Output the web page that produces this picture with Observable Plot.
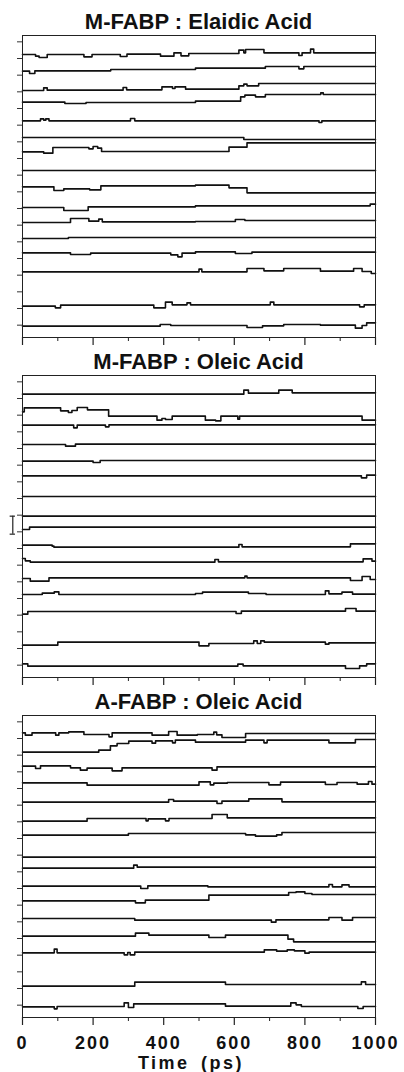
<!DOCTYPE html>
<html>
<head>
<meta charset="utf-8">
<script src="https://cdn.jsdelivr.net/npm/d3@7"></script>
<script src="https://cdn.jsdelivr.net/npm/@observablehq/plot@0.6"></script>
<style>
  html, body { margin: 0; padding: 0; background: #fff; }
  #chart { position: relative; width: 404px; height: 1072px; overflow: hidden;
           font-family: "Liberation Sans", Arial, Helvetica, sans-serif; }
  .title { position: absolute; left: 22px; width: 353px; text-align: center;
           font-weight: bold; font-size: 22px; line-height: 22px; color: #111; white-space: nowrap; }
  .panel { position: absolute; left: 0; }
  .xlabel { position: absolute; left: 0; width: 382px; text-align: center; top: 1053.5px;
            font-weight: bold; font-size: 18px; line-height: 18px; color: #111;
            letter-spacing: 2.5px; word-spacing: 4px; white-space: nowrap; }
</style>
</head>
<body>
<div id="chart"></div>
<script>
// ---------- data (time in ps, offset trace value in arbitrary units; each trace = step breakpoints [t, value]) ----------
const titles = ["M-FABP : Elaidic Acid", "M-FABP : Oleic Acid", "A-FABP : Oleic Acid"];
const xLabel = "Time (ps)";
const majorTicks = [0, 200, 400, 600, 800, 1000];
const minorTicks = [100, 300, 500, 700, 900];
const yTicks = [0, 50, 100, 150, 200, 250, 300, 350, 400, 450, 500, 550, 600, 650, 700, 750, 800, 850];
const timeDomain = [0, 1000];
const valueDomain = [-37, 869];

const mfabpElaidic = [
  [[0,812],[37,807],[47,803],[70,812],[174,805],[197,812],[277,806],[296,813],[391,807],[429,817],[449,808],[471,815],[613,825],[627,817],[632,827],[684,817],[783,809],[792,817],[816,828],[825,817]],
  [[0,762],[20,755],[35,763],[250,767],[490,771],[688,776],[783,769],[797,776]],
  [[0,704],[60,712],[70,705],[285,713],[295,706],[395,715],[425,710],[432,715],[462,708],[613,718],[627,723],[636,718],[669,725]],
  [[0,669],[120,665],[180,668],[490,672],[618,685],[630,690],[660,685],[688,692],[845,697],[852,692]],
  [[0,613],[51,619],[60,615],[66,619],[75,613],[306,620],[318,613],[840,608],[848,613]],
  [[0,563],[627,557]],
  [[0,520],[60,516],[86,533],[188,529],[200,536],[213,531],[224,521],[585,534],[636,547]],
  [[0,464]],
  [[0,415],[89,404],[117,409],[190,406],[222,418],[490,420],[585,412],[636,397]],
  [[0,353],[117,344],[186,355],[490,358],[985,363]],
  [[0,308],[136,320],[188,312],[216,318],[226,310],[490,311],[603,317],[630,314]],
  [[0,260],[130,263]],
  [[0,217],[136,212],[193,216],[420,211],[440,205],[452,216],[490,220],[603,215],[650,219]],
  [[0,160],[500,168],[508,160],[636,170],[684,163],[740,170],[844,162],[938,170],[962,161],[988,155]],
  [[0,57],[93,52],[108,60],[372,52],[405,69],[424,61],[466,67],[476,61],[702,69],[712,61],[955,55],[968,61]],
  [[0,-3],[390,2],[420,-1],[636,-7],[680,-2],[740,2],[844,0],[943,-9],[962,-1],[975,7]]
];

const mfabpOleic = [
  [[0,813],[627,825],[640,816],[726,825],[764,817]],
  [[0,760],[5,772],[108,763],[130,758],[140,764],[155,773],[184,766],[244,747],[381,735],[395,740],[405,737],[424,747],[518,735],[547,733],[562,747],[610,738],[615,747],[962,735]],
  [[0,720],[145,712],[155,720],[235,715],[245,721]],
  [[0,662],[122,657],[150,663]],
  [[0,612],[200,608],[220,614]],
  [[0,568],[960,562],[975,570]],
  [[0,506]],
  [[0,447]],
  [[0,407],[20,414]],
  [[0,360],[84,357],[89,354],[613,362],[622,355],[929,364]],
  [[0,320],[8,313],[22,309],[545,317],[555,310],[965,319],[990,312]],
  [[0,260],[22,252],[75,262],[630,267],[636,262],[929,254],[962,266],[985,257]],
  [[0,212],[56,216],[90,220],[103,212],[490,215],[510,219],[640,215],[690,212],[858,223],[868,214],[905,219],[935,213]],
  [[0,153],[15,161],[605,155],[620,162],[915,170],[945,162]],
  [[0,60],[100,69],[500,58],[528,65],[655,73],[665,65],[675,73],[685,69],[858,63],[868,67]],
  [[0,4],[15,-3],[610,3],[625,-2],[915,-10],[955,-2],[975,4]]
];

const afabpOleic = [
  [[0,817],[8,810],[27,817],[94,810],[103,817],[131,820],[174,812],[245,805],[254,817],[367,810],[414,821],[438,810],[495,812],[542,819],[550,811],[565,803],[632,815]],
  [[0,759],[216,765],[249,778],[268,785],[301,792],[367,786],[377,793],[425,787],[433,795],[490,789],[632,795],[684,787],[693,795],[868,787],[943,797]],
  [[0,717],[37,710],[51,718],[136,712],[164,705],[183,711],[254,703],[282,712],[537,705],[551,715]],
  [[0,667],[183,660],[500,670],[532,661],[542,666],[580,668],[698,661],[731,669],[858,662],[891,668],[948,663],[980,671],[990,663]],
  [[0,609],[414,617],[428,612],[551,605],[565,612],[641,619],[735,610]],
  [[0,552],[183,560],[350,553],[356,559],[405,553],[415,560],[537,572],[580,562]],
  [[0,510],[300,515],[632,511],[660,507],[720,511],[735,518]],
  [[0,444]],
  [[0,411],[315,420],[325,414]],
  [[0,357],[335,350],[355,358],[525,355],[868,362],[878,355],[905,361],[925,355]],
  [[0,313],[320,307],[348,315],[528,330],[754,338],[775,340],[800,335],[820,332]],
  [[0,260],[318,255],[705,249],[718,256],[868,263],[905,255],[935,263]],
  [[0,207],[320,216],[358,210],[528,203],[575,210],[752,198],[768,190]],
  [[0,157],[90,168],[98,157],[288,151],[298,158],[305,151],[318,159],[685,166],[720,162],[750,166],[770,163],[800,156],[812,159]],
  [[0,57],[318,69],[575,62],[960,70],[972,62]],
  [[0,-5],[90,-11],[98,-4],[288,7],[300,-7],[315,4],[575,-3],[760,7],[775,1],[790,-4],[950,-10],[965,-4]]
];

// scale bar drawn left of the middle panel (in data units of that panel)
const scaleBar = [{t: -27.5, lo: 393, hi: 447}];
const scaleBarHalfWidth = 7.5;

const panels = [mfabpElaidic, mfabpOleic, afabpOleic];

// ---------- drawing ----------
const chart = document.getElementById("chart");
const PANEL_STEP = 340;

function buildRows(traces) {
  const rows = [];
  traces.forEach((tr, k) => {
    tr.forEach(([t, v]) => rows.push({trace: k, t, v}));
    rows.push({trace: k, t: timeDomain[1], v: tr[tr.length - 1][1]});
  });
  return rows;
}

panels.forEach((traces, i) => {
  const last = i === panels.length - 1;
  const marginTop = 35, frameH = 302;
  const marginBottom = last ? 55 : 9;
  const height = marginTop + frameH + marginBottom;

  const marks = [
    Plot.axisY(yTicks, {anchor: "left", tickSize: 5, tickFormat: () => "", label: null, stroke: "#333", strokeWidth: 1}),
    Plot.axisX(minorTicks, {anchor: "bottom", tickSize: 4, tickFormat: () => "", label: null, stroke: "#222", strokeWidth: 1}),
    Plot.axisX(majorTicks, {anchor: "bottom", tickSize: 8, tickPadding: 10.7, label: null,
      tickFormat: last ? (d => String(d)) : (() => ""),
      stroke: "#222", strokeWidth: 1.2, fontSize: 18, fontWeight: "bold", fill: "#111"}),
    Plot.line(buildRows(traces), {x: "t", y: "v", z: "trace", curve: "step-after", stroke: "#111", strokeWidth: 1.6}),
    Plot.frame({stroke: "#222", strokeWidth: 1})
  ];
  if (i === 1) {
    marks.push(Plot.ruleX(scaleBar, {x: "t", y1: "lo", y2: "hi", stroke: "#222", strokeWidth: 1.2}));
    marks.push(Plot.ruleY(scaleBar, {y: "lo", x1: d => d.t - scaleBarHalfWidth, x2: d => d.t + scaleBarHalfWidth, stroke: "#222", strokeWidth: 1.2}));
    marks.push(Plot.ruleY(scaleBar, {y: "hi", x1: d => d.t - scaleBarHalfWidth, x2: d => d.t + scaleBarHalfWidth, stroke: "#222", strokeWidth: 1.2}));
  }

  const svg = Plot.plot({
    width: 404,
    height,
    marginLeft: 22,
    marginRight: 29,
    marginTop,
    marginBottom,
    x: {domain: timeDomain, label: null},
    y: {domain: valueDomain, label: null},
    style: {background: "transparent", overflow: "visible",
            fontFamily: "'Liberation Sans', Arial, Helvetica, sans-serif", letterSpacing: "2px"},
    marks
  });
  svg.classList.add("panel");
  svg.style.top = (i * PANEL_STEP) + "px";
  chart.appendChild(svg);

  const title = document.createElement("div");
  title.className = "title";
  title.style.top = (11.4 + i * PANEL_STEP) + "px";
  title.textContent = titles[i];
  chart.appendChild(title);
});

const xl = document.createElement("div");
xl.className = "xlabel";
xl.textContent = xLabel;
chart.appendChild(xl);
</script>
</body>
</html>
